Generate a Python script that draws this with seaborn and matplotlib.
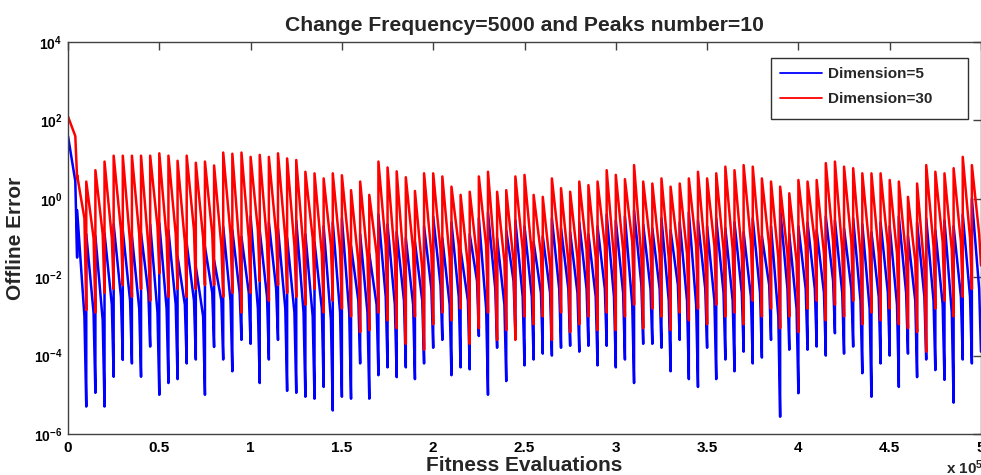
import numpy as np
import pandas as pd
import matplotlib
matplotlib.use("Agg")
import matplotlib.pyplot as plt
import seaborn as sns
from matplotlib.ticker import FixedLocator, NullLocator
from matplotlib.patches import Rectangle

# ---------------- data ----------------
change_frequency = 5000          # evaluations per environment
n_changes = 100                  # environments over 5e5 evaluations

# log10 of the offline error at the start (peak), late in the environment (knee)
# and at the end (trough) of each environment
red_peak_exp = [
    2.1, 0.6, 0.44, 0.73, 0.95, 1.1, 1.1, 1.1, 1.1, 1.1,
    1.16, 1.1, 0.97, 1.1, 0.92, 0.95, 0.85, 1.18, 1.15, 1.18,
    1.07, 1.12, 1.07, 1.16, 1.03, 0.99, 0.69, 0.65, 0.52, 0.65,
    0.6, 0.22, 0.44, 0.1, 0.95, 0.8, 0.7, 0.55, 0.2, 0.65,
    0.65, 0.57, 0.31, 0.1, 0.18, 0.57, 0.69, 0.18, 0.22, 0.57,
    0.61, 0.1, 0.05, 0.52, 0.27, 0.18, 0.44, 0.35, 0.44, 0.73,
    0.61, 0.5, 0.86, 0.44, 0.39, 0.52, 0.31, 0.39, 0.52, 0.69,
    0.52, 0.65, 0.82, 0.73, 0.86, 0.82, 0.52, 0.44, 0.31, 0.14,
    0.48, 0.44, 0.48, 0.91, 0.95, 0.82, 0.78, 0.65, 0.65, 0.65,
    0.48, 0.44, 0.05, 0.39, 0.86, 0.69, 0.65, 0.78, 1.07, 0.86,
]
red_knee_exp = [
    1.6, -0.5, -1.0, -0.9, -1.0, -0.8, -1.1, -0.9, -1.2, -0.7,
    -1.0, -0.9, -1.1, -0.8, -1.0, -0.9, -1.2, -0.9, -1.3, -1.0,
    -0.8, -1.1, -0.9, -1.0, -1.2, -1.3, -1.0, -1.4, -1.2, -1.3,
    -1.3, -1.6, -1.5, -1.4, -1.2, -1.5, -1.7, -1.3, -1.8, -1.4,
    -1.3, -1.5, -1.2, -1.7, -1.5, -1.2, -1.6, -1.6, -1.6, -1.3,
    -1.4, -1.4, -1.7, -1.2, -1.6, -1.5, -1.3, -1.5, -1.2, -1.5,
    -1.3, -1.1, -1.5, -1.2, -1.4, -1.5, -1.3, -1.4, -1.2, -1.4,
    -1.2, -1.3, -1.3, -1.4, -1.1, -1.3, -1.2, -1.5, -1.4, -1.6,
    -1.2, -1.1, -1.4, -1.1, -1.3, -1.1, -1.4, -1.3, -1.4, -1.2,
    -1.4, -1.5, -1.6, -1.8, -1.2, -1.1, -1.3, -1.1, -1.0, -0.9,
]
red_trough_exp = [
    0.5, -2.84, -2.9, -2.4, -2.3, -2.2, -2.5, -2.3, -2.6, -1.9,
    -2.5, -2.3, -2.5, -2.3, -2.2, -2.2, -2.5, -2.4, -2.9, -2.4,
    -2.1, -2.6, -2.2, -2.4, -2.5, -2.7, -2.3, -2.9, -2.6, -2.8,
    -3.0, -3.4, -3.35, -2.9, -3.1, -3.3, -3.7, -3.0, -3.85, -3.2,
    -2.9, -3.1, -2.8, -3.7, -3.3, -2.9, -3.6, -3.35, -3.6, -3.0,
    -3.2, -3.0, -3.6, -2.9, -3.4, -3.2, -3.0, -3.35, -2.9, -3.35,
    -3.0, -2.7, -3.3, -2.8, -3.0, -3.35, -2.9, -3.1, -2.8, -3.2,
    -2.7, -3.0, -2.9, -3.2, -2.6, -3.0, -2.8, -3.3, -3.0, -3.4,
    -2.8, -2.6, -3.1, -2.7, -3.0, -2.6, -3.2, -2.9, -3.1, -2.8,
    -3.2, -3.3, -3.4, -3.9, -2.8, -2.6, -3.0, -2.5, -2.3, -1.7,
]
blue_peak_exp = [
    1.6, -0.29, -0.9, -0.95, -0.88, -0.65, -0.8, -0.95, -0.88, -0.65,
    -0.62, -0.8, -1.47, -1.13, -1.73, -1.22, -1.56, -0.71, -0.8, -0.97,
    -0.45, -0.8, -0.6, -0.75, -1.0, -0.55, -0.9, -1.1, -0.7, -0.6,
    -0.5, -1.2, -0.9, -1.4, -0.4, -0.65, -0.85, -1.0, -1.1, -0.7,
    -0.45, -1.0, -0.6, -1.3, -0.9, -0.5, -0.35, -1.0, -0.8, -0.55,
    -0.7, -1.1, -0.95, -0.5, -0.75, -0.85, -0.6, -0.9, -0.7, -0.4,
    -0.55, -0.45, -0.3, -0.65, -0.75, -0.5, -0.8, -0.6, -0.35, -0.55,
    -0.7, -0.5, -0.75, -0.6, -0.85, -0.5, -0.95, -0.7, -0.25, -0.9,
    -0.7, -0.6, -0.8, -0.45, -0.55, -0.75, -0.5, -0.65, -0.85, -0.6,
    -0.7, -0.45, -0.95, -0.6, -0.5, -0.8, -0.55, -0.7, -0.4, 0.0,
]
blue_knee_exp = [
    0.45, -3.0, -2.9, -3.1, -2.7, -2.5, -2.6, -2.8, -2.4, -2.9,
    -2.8, -2.7, -2.7, -2.6, -3.0, -2.4, -2.6, -2.6, -2.4, -2.4,
    -2.8, -2.5, -2.3, -2.8, -2.9, -2.9, -3.0, -2.8, -3.1, -2.9,
    -2.9, -2.6, -2.9, -2.7, -2.5, -2.7, -2.6, -2.7, -2.6, -2.3,
    -2.2, -2.7, -2.5, -2.6, -2.1, -2.8, -2.3, -2.7, -2.1, -2.5,
    -2.5, -2.4, -2.4, -2.3, -2.3, -2.4, -2.3, -2.5, -2.3, -2.5,
    -2.4, -2.7, -2.2, -2.3, -2.3, -2.6, -2.2, -2.6, -2.7, -2.3,
    -2.6, -2.4, -2.6, -2.4, -2.5, -2.4, -2.2, -3.0, -2.3, -2.8,
    -2.3, -2.3, -2.4, -2.1, -2.4, -2.3, -2.6, -2.8, -2.5, -2.4,
    -2.7, -2.4, -2.6, -2.5, -2.6, -2.7, -2.9, -2.5, -2.5, -2.3,
]
blue_trough_exp = [
    -1.5, -5.3, -4.95, -5.3, -4.54, -4.11, -4.2, -4.54, -3.77, -5.0,
    -4.7, -4.6, -4.2, -4.1, -5.0, -3.78, -4.1, -4.4, -3.6, -3.7,
    -4.7, -4.1, -3.6, -4.9, -4.95, -5.05, -5.1, -4.8, -5.4, -5.05,
    -5.1, -4.2, -5.1, -4.5, -4.3, -4.55, -4.3, -4.6, -4.2, -3.8,
    -3.6, -4.5, -4.3, -4.35, -3.5, -5.0, -3.8, -4.65, -3.4, -4.25,
    -4.1, -3.95, -4.0, -3.8, -3.75, -3.9, -3.75, -4.25, -3.75, -4.3,
    -4.1, -4.7, -3.7, -3.7, -3.8, -4.4, -3.6, -4.6, -4.8, -3.8,
    -4.6, -4.1, -4.4, -3.9, -4.2, -4.05, -3.6, -5.56, -3.85, -4.96,
    -3.85, -3.77, -4.0, -3.43, -3.95, -3.77, -4.45, -5.05, -4.2, -4.0,
    -4.8, -3.95, -4.55, -4.1, -4.37, -4.62, -5.2, -4.1, -4.2, -3.9,
]
series_labels = ["Dimension=5", "Dimension=30"]
series_colors = ["#0000FF", "#FF0000"]
x_tick_values = [0, 0.5, 1, 1.5, 2, 2.5, 3, 3.5, 4, 4.5, 5]
y_tick_exponents = [-6, -4, -2, 0, 2, 4]
title_text = "Change Frequency=5000 and Peaks number=10"
x_label = "Fitness Evaluations"
y_label = "Offline Error"

KNEE_AT = 0.8   # fraction of an environment at which the knee value is read

# ---------------- build long table ----------------
def build(label, peaks, knees, troughs):
    rows = []
    for k in range(n_changes):
        start = k * change_frequency
        rows.append((start, 10.0 ** peaks[k], label))
        rows.append((start + KNEE_AT * change_frequency, 10.0 ** knees[k], label))
        rows.append((start + change_frequency, 10.0 ** troughs[k], label))
    return rows

rows = build(series_labels[0], blue_peak_exp, blue_knee_exp, blue_trough_exp) + \
       build(series_labels[1], red_peak_exp, red_knee_exp, red_trough_exp)
df = pd.DataFrame(rows, columns=["evals", "error", "series"])

# ---------------- style ----------------
sns.set_theme(style="white")
plt.rcParams["font.family"] = ["Liberation Sans", "DejaVu Sans"]
plt.rcParams["font.weight"] = "bold"
plt.rcParams["mathtext.fontset"] = "custom"
plt.rcParams["mathtext.rm"] = "Liberation Sans:bold"
plt.rcParams["mathtext.bf"] = "Liberation Sans:bold"
plt.rcParams["mathtext.it"] = "Liberation Sans:bold"

fig = plt.figure(figsize=(9.81, 4.75), dpi=100)
ax = fig.add_axes([68 / 981, 1 - 434 / 475, 913 / 981, 392 / 475])

sns.lineplot(data=df, x="evals", y="error", hue="series",
             palette=dict(zip(series_labels, series_colors)),
             estimator=None, sort=False, linewidth=1.8, ax=ax)

ax.set_yscale("log")
ax.set_ylim(1e-6, 1e4)
ax.set_xlim(0, n_changes * change_frequency)

ax.xaxis.set_major_locator(FixedLocator([v * 1e5 for v in x_tick_values]))
ax.set_xticklabels([f"{v:g}" for v in x_tick_values], fontsize=11, fontweight="bold")
ax.yaxis.set_major_locator(FixedLocator([10.0 ** e for e in y_tick_exponents]))
ax.yaxis.set_minor_locator(NullLocator())
ax.set_yticklabels([r"$10^{%d}$" % e for e in y_tick_exponents], fontsize=10)

ax.tick_params(which="major", direction="in", length=6, width=1.0,
               top=True, right=True, color="#404040", labelcolor="black")
ax.tick_params(axis="x", pad=5)
ax.tick_params(axis="y", pad=4)
for s in ax.spines.values():
    s.set_color("#404040")
    s.set_linewidth(1.0)

ax.set_title(title_text, fontsize=15.2, fontweight="bold", pad=8)
ax.set_xlabel(x_label, fontsize=15, fontweight="bold", labelpad=1)
ax.set_ylabel(y_label, fontsize=15, fontweight="bold", labelpad=6)

fig.text(946 / 981, 1 - 468 / 475, r"x 10$^{5}$", fontsize=11,
         fontweight="bold", ha="left", va="center")

# legend box (MATLAB style, wider than its content)
box = Rectangle(((771 - 68) / 913, 1 - (119 - 42) / 392),
                (968 - 771) / 913, (119 - 58) / 392,
                transform=ax.transAxes, facecolor="white",
                edgecolor="#303030", linewidth=1.0, zorder=4)
ax.add_patch(box)

handles, labels = ax.get_legend_handles_labels()
leg = ax.legend(handles, labels, loc="upper left",
                bbox_to_anchor=((780 - 68) / 913, 1 - (67 - 42) / 392),
                borderaxespad=0, borderpad=0, frameon=False,
                fontsize=11, handlelength=2.75, handletextpad=0.4,
                labelspacing=0.75)
leg.set_zorder(5)
for t in leg.get_texts():
    t.set_fontweight("bold")
for h in leg.get_lines():
    h.set_linewidth(1.3)

fig.savefig("out.png", dpi=100)
